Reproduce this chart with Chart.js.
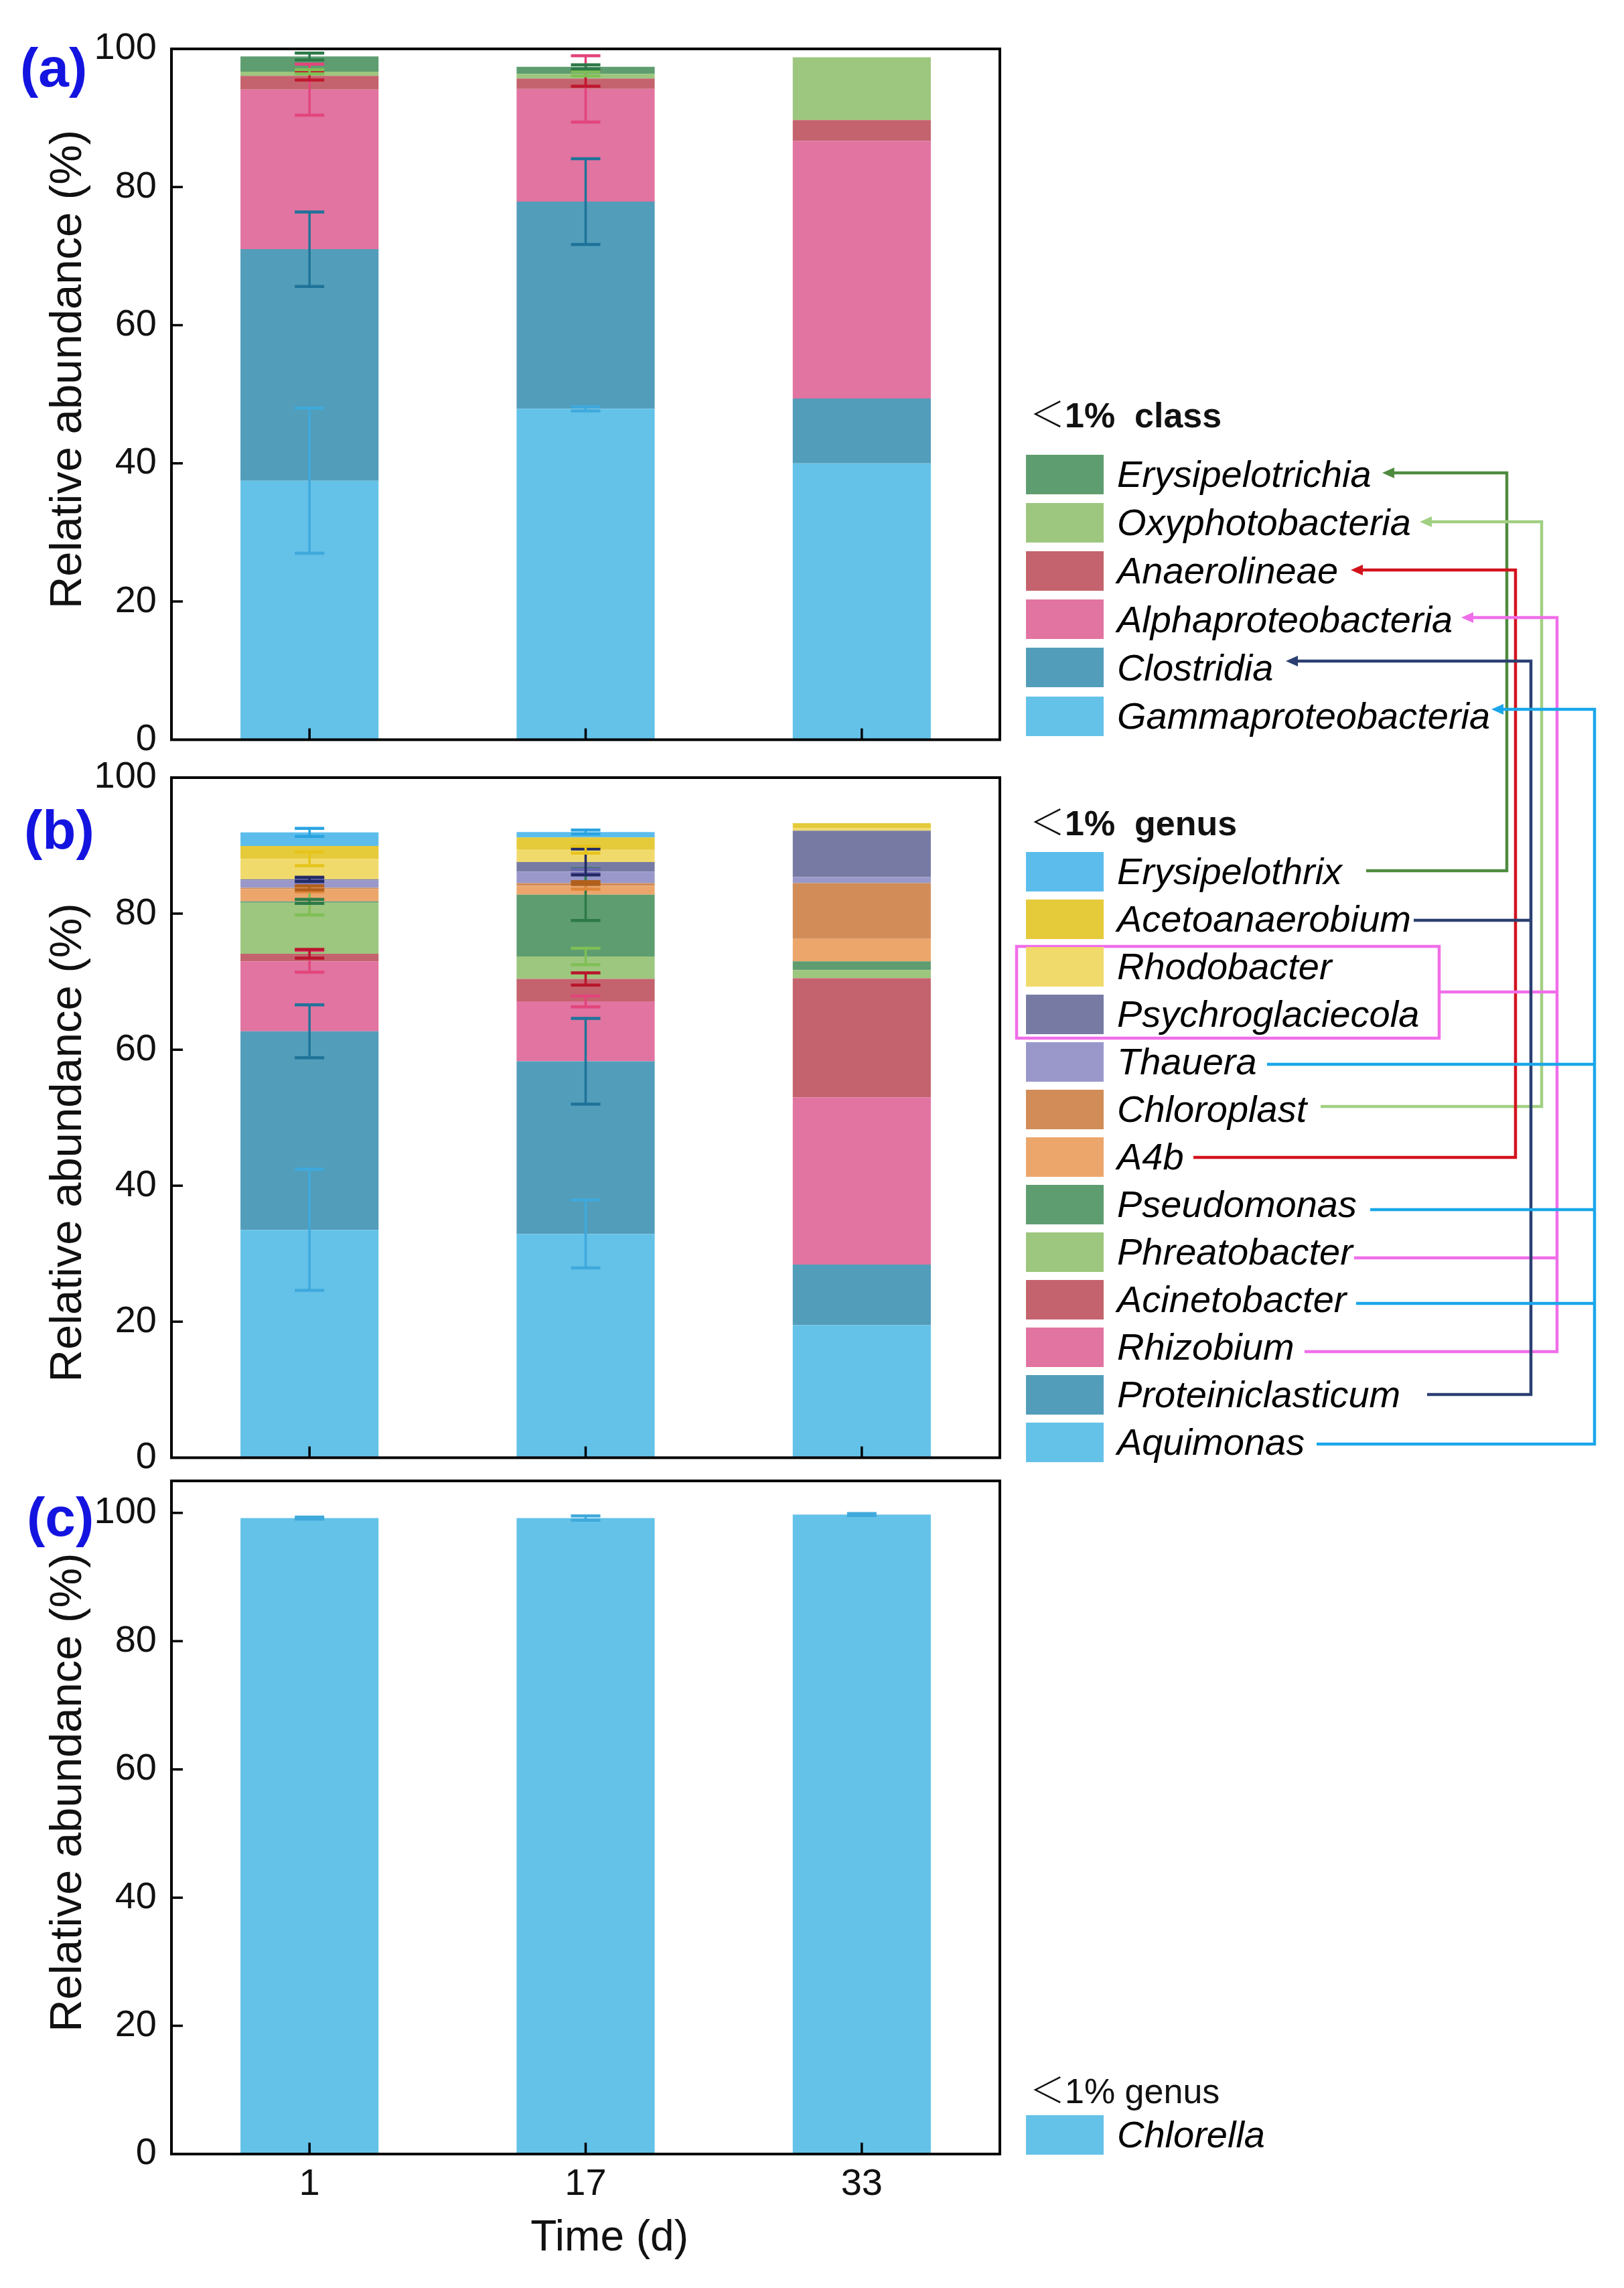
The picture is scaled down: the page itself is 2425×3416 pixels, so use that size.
<!DOCTYPE html>
<html><head><meta charset="utf-8">
<script src="https://cdn.jsdelivr.net/npm/chart.js@4.4.1/dist/chart.umd.min.js"></script>
<style>
html,body{margin:0;padding:0;background:#fff;}
#page{position:relative;width:2425px;height:3416px;overflow:hidden;background:#fff;font-family:'Liberation Sans',Arial,sans-serif;}
#page canvas{position:absolute;left:0;}
.plabel{position:absolute;color:#1414e0;font-weight:bold;font-size:82px;line-height:82px;white-space:nowrap;z-index:3;}
.hdr{position:absolute;font-size:52px;color:#111;white-space:pre;line-height:60px;z-index:3;}
.hdr .lt{font-family:'Noto Sans CJK SC',sans-serif;font-weight:300;}
.sw{position:absolute;width:116px;height:59px;z-index:3;}
.tx{position:absolute;font-style:italic;font-size:56px;color:#000;white-space:nowrap;line-height:60px;letter-spacing:0;z-index:3;}
svg{position:absolute;left:0;top:0;z-index:2;}
</style></head>
<body>
<div id="page">
<canvas id="ca"></canvas>
<canvas id="cb"></canvas>
<canvas id="cc"></canvas>
<div class="plabel" style="left:30px;top:60px;">(a)</div>
<div class="plabel" style="left:36px;top:1198px;">(b)</div>
<div class="plabel" style="left:40px;top:2224px;">(c)</div>
<svg width="2425" height="3416" viewBox="0 0 2425 3416">
  <g fill="none" stroke-width="4.5">
    <polyline stroke="#4f8b3f" points="2072,706 2250,706 2250,1300 2040,1300"/>
    <polyline stroke="#a0cf82" points="2128,779 2302,779 2302,1652 1972,1652"/>
    <polyline stroke="#d3121c" points="2025,851 2263,851 2263,1728 1782,1728"/>
    <polyline stroke="#f06ee9" points="2190,922 2325,922 2325,2018 1948,2018"/>
    <polyline stroke="#f06ee9" points="2149,1481 2325,1481"/>
    <polyline stroke="#f06ee9" points="2022,1878 2325,1878"/>
    <rect stroke="#f06ee9" x="1518" y="1413" width="631" height="137"/>
    <polyline stroke="#2b3f70" points="1928,987 2286,987 2286,2082 2131,2082"/>
    <polyline stroke="#2b3f70" points="2111,1374 2286,1374"/>
    <polyline stroke="#1aa6ea" points="2235,1059 2381,1059 2381,2156 1966,2156"/>
    <polyline stroke="#1aa6ea" points="1892,1589 2381,1589"/>
    <polyline stroke="#1aa6ea" points="2046,1806 2381,1806"/>
    <polyline stroke="#1aa6ea" points="2025,1946 2381,1946"/>
  </g>
  <polygon fill="#4f8b3f" points="2064,706 2082,698 2082,714"/>
  <polygon fill="#a0cf82" points="2120,779 2138,771 2138,787"/>
  <polygon fill="#d3121c" points="2017,851 2035,843 2035,859"/>
  <polygon fill="#f06ee9" points="2182,922 2200,914 2200,930"/>
  <polygon fill="#2b3f70" points="1920,987 1938,979 1938,995"/>
  <polygon fill="#1aa6ea" points="2227,1059 2245,1051 2245,1067"/>
</svg>
</div>
<script>
// ---------------- DATA ----------------
const days = ['1', '17', '33'];
const yTicks = [0, 20, 40, 60, 80, 100];

// Panel (a): class level, relative abundance (%) and error
const gammaproteobacteria    = [37.5, 47.9, 40.0];
const gammaproteobacteriaErr = [10.5, 0.3, 0];
const clostridia             = [33.5, 30.0, 9.4];
const clostridiaErr          = [5.4, 6.2, 0];
const alphaproteobacteria    = [23.1, 16.3, 37.3];
const alphaproteobacteriaErr = [3.7, 4.8, 0];
const anaerolineae           = [2.0, 1.5, 3.0];
const anaerolineaeErr        = [0.6, 1.1, 0];
const oxyphotobacteria       = [0.6, 0.7, 9.1];
const oxyphotobacteriaErr    = [0.3, 0.3, 0];
const erysipelotrichia       = [2.2, 1.0, 0];
const erysipelotrichiaErr    = [0.5, 0.3, 0];

// Panel (b): genus level
const aquimonas             = [33.5, 32.9, 19.5];
const aquimonasErr          = [8.9, 5.0, 0];
const proteiniclasticum     = [29.2, 25.4, 8.9];
const proteiniclasticumErr  = [3.9, 6.3, 0];
const rhizobium             = [10.3, 8.8, 24.6];
const rhizobiumErr          = [1.6, 0.8, 0];
const acinetobacter         = [1.1, 3.3, 17.5];
const acinetobacterErr      = [0.65, 0.9, 0];
const phreatobacter         = [7.5, 3.3, 1.2];
const phreatobacterErr      = [1.8, 1.2, 0];
const pseudomonas           = [0.2, 9.1, 1.3];
const pseudomonasErr        = [0.3, 3.8, 0];
const a4b                   = [1.8, 1.3, 3.3];
const a4bErr                = [0.4, 0.5, 0];
const chloroplast           = [0.2, 0.4, 8.2];
const chloroplastErr        = [0.3, 0.2, 0];
const thauera               = [1.1, 1.7, 0.9];
const thaueraErr            = [0.3, 0.3, 0];
const psychroglaciecola     = [0.15, 1.4, 6.8];
const psychroglaciecolaErr  = [0.3, 1.9, 0];
const rhodobacter           = [3.0, 1.8, 0.4];
const rhodobacterErr        = [1.0, 0.5, 0];
const acetoanaerobium       = [1.9, 1.8, 0.7];
const acetoanaerobiumErr    = [0, 0, 0];
const erysipelothrix        = [2.0, 0.8, 0];
const erysipelothrixErr     = [0.6, 0.3, 0];

// Panel (c): algae genus
const chlorella    = [99.2, 99.2, 99.75];
const chlorellaErr = [0.15, 0.35, 0.15];

// ---------------- STYLE ----------------
const FONT = "'Liberation Sans', Arial, sans-serif";
const COL = {
  lblue: '#64c2e9', steel: '#529dba', pink: '#e174a0', red: '#c4636d',
  lgreen: '#9dc67e', dgreen: '#5e9d70', yellow: '#e5ca3a', pyellow: '#f1da6c',
  slate: '#777ba4', lav: '#9a98ca', brown: '#d18c58', orange: '#eca66c', sky: '#5cbdec'
};

const seriesA = [
  {label: 'Gammaproteobacteria', data: gammaproteobacteria, err: gammaproteobacteriaErr, color: COL.lblue, ec: '#3fa9dc'},
  {label: 'Clostridia', data: clostridia, err: clostridiaErr, color: COL.steel, ec: '#1f7399'},
  {label: 'Alphaproteobacteria', data: alphaproteobacteria, err: alphaproteobacteriaErr, color: COL.pink, ec: '#e2457c'},
  {label: 'Anaerolineae', data: anaerolineae, err: anaerolineaeErr, color: COL.red, ec: '#c0182f'},
  {label: 'Oxyphotobacteria', data: oxyphotobacteria, err: oxyphotobacteriaErr, color: COL.lgreen, ec: '#7fbf55'},
  {label: 'Erysipelotrichia', data: erysipelotrichia, err: erysipelotrichiaErr, color: COL.dgreen, ec: '#2d7a48'}
];
const seriesB = [
  {label: 'Aquimonas', data: aquimonas, err: aquimonasErr, color: COL.lblue, ec: '#3fa9dc'},
  {label: 'Proteiniclasticum', data: proteiniclasticum, err: proteiniclasticumErr, color: COL.steel, ec: '#1f7399'},
  {label: 'Rhizobium', data: rhizobium, err: rhizobiumErr, color: COL.pink, ec: '#e2457c'},
  {label: 'Acinetobacter', data: acinetobacter, err: acinetobacterErr, color: COL.red, ec: '#b8152c'},
  {label: 'Phreatobacter', data: phreatobacter, err: phreatobacterErr, color: COL.lgreen, ec: '#7fbf55'},
  {label: 'Pseudomonas', data: pseudomonas, err: pseudomonasErr, color: COL.dgreen, ec: '#2d7a48'},
  {label: 'A4b', data: a4b, err: a4bErr, color: COL.orange, ec: '#e0863a'},
  {label: 'Chloroplast', data: chloroplast, err: chloroplastErr, color: COL.brown, ec: '#b0601c'},
  {label: 'Thauera', data: thauera, err: thaueraErr, color: COL.lav, ec: '#6a67b0'},
  {label: 'Psychroglaciecola', data: psychroglaciecola, err: psychroglaciecolaErr, color: COL.slate, ec: '#232a66'},
  {label: 'Rhodobacter', data: rhodobacter, err: rhodobacterErr, color: COL.pyellow, ec: '#e6c41a'},
  {label: 'Acetoanaerobium', data: acetoanaerobium, err: acetoanaerobiumErr, color: COL.yellow, ec: '#c9a800'},
  {label: 'Erysipelothrix', data: erysipelothrix, err: erysipelothrixErr, color: COL.sky, ec: '#2aa3e0'}
];
const seriesC = [
  {label: 'Chlorella', data: chlorella, err: chlorellaErr, color: COL.lblue, ec: '#3fa9dc'}
];

function makePanel(id, top, height, series, cfg) {
  const cv = document.getElementById(id);
  cv.width = 1520; cv.height = height;
  cv.style.width = '1520px'; cv.style.height = height + 'px'; cv.style.top = top + 'px';
  const deco = {
    id: 'deco' + id,
    afterDatasetsDraw(chart) {
      const ctx = chart.ctx, xs = chart.scales.x, ys = chart.scales.y;
      const cum = days.map(() => 0);
      ctx.save();
      ctx.lineCap = 'butt';
      series.forEach(s => {
        s.data.forEach((v, j) => {
          cum[j] += v;
          const e = s.err[j];
          if (!e) return;
          const x = xs.getPixelForValue(j);
          const yT = ys.getPixelForValue(cum[j] + e);
          const yB = ys.getPixelForValue(cum[j] - e);
          ctx.strokeStyle = s.ec;
          ctx.lineWidth = 3.5;
          ctx.beginPath();
          ctx.moveTo(x, yT); ctx.lineTo(x, yB);
          ctx.stroke();
          ctx.lineWidth = 4.5;
          ctx.beginPath();
          ctx.moveTo(x - 22, yT); ctx.lineTo(x + 22, yT);
          ctx.moveTo(x - 22, yB); ctx.lineTo(x + 22, yB);
          ctx.stroke();
        });
      });
      ctx.restore();
    },
    afterDraw(chart) {
      const ctx = chart.ctx, a = chart.chartArea, xs = chart.scales.x, ys = chart.scales.y;
      ctx.save();
      ctx.strokeStyle = '#000';
      ctx.lineWidth = 4;
      ctx.strokeRect(a.left, a.top, a.right - a.left, a.bottom - a.top);
      ctx.lineWidth = 3.5;
      ctx.beginPath();
      yTicks.forEach(v => {
        if (v <= 0 || v >= ys.max) return;
        const y = ys.getPixelForValue(v);
        ctx.moveTo(a.left, y); ctx.lineTo(a.left + 17, y);
      });
      days.forEach((d, j) => {
        const x = xs.getPixelForValue(j);
        ctx.moveTo(x, a.bottom); ctx.lineTo(x, a.bottom - 17);
      });
      ctx.stroke();
      ctx.restore();
    }
  };
  return new Chart(cv, {
    type: 'bar',
    data: {
      labels: days,
      datasets: series.map(s => ({
        label: s.label, data: s.data, backgroundColor: s.color,
        borderWidth: 0, barPercentage: 0.5, categoryPercentage: 1.0
      }))
    },
    options: {
      responsive: false, animation: false, devicePixelRatio: 1,
      layout: {padding: {top: 73, right: 27, left: 0, bottom: 0}},
      plugins: {legend: {display: false}, tooltip: {enabled: false}},
      scales: {
        x: {
          stacked: true,
          grid: {display: false, drawTicks: false},
          border: {display: false},
          ticks: {display: cfg.showX, padding: 12, color: '#111', font: {family: FONT, size: 56}},
          title: {display: cfg.showX, text: '    Time (d)', color: '#111',
                  font: {family: FONT, size: 64}, padding: {top: 0, bottom: 35}},
          afterFit: s => { s.height = cfg.xH; }
        },
        y: {
          stacked: true, min: 0, max: cfg.max,
          grid: {display: false, drawTicks: false},
          border: {display: false},
          ticks: {padding: 22, color: '#111', font: {family: FONT, size: 56}},
          afterBuildTicks: s => { s.ticks = yTicks.map(v => ({value: v})); },
          title: {display: true, text: cfg.yTitle, color: '#111',
                  font: {family: FONT, size: 67}, padding: {top: 62, bottom: 0}},
          afterFit: s => { s.width = 256; }
        }
      }
    },
    plugins: [deco]
  });
}

makePanel('ca', 0, 1160, seriesA, {showX: false, xH: 43, max: 100, yTitle: '    Relative abundance (%)'});
makePanel('cb', 1088, 1144, seriesB, {showX: false, xH: 45, max: 100, yTitle: 'Relative abundance (%)    '});
makePanel('cc', 2138, 1278, seriesC, {showX: true, xH: 200, max: 105, yTitle: '    Relative abundance (%)'});

// ---------------- LEGENDS (HTML text) ----------------
const page = document.getElementById('page');
function addHeader(word, cy, bold) {
  const d = document.createElement('div');
  d.className = 'hdr';
  d.style.left = '1538px';
  d.style.top = (cy - 30) + 'px';
  d.style.fontWeight = bold ? 'bold' : 'normal';
  const lt = document.createElement('span');
  lt.className = 'lt';
  lt.textContent = '＜';
  d.appendChild(lt);
  d.appendChild(document.createTextNode(bold ? '1%  ' + word : '1% ' + word));
  page.appendChild(d);
}
function addRows(series, startY, pitch) {
  series.forEach((s, i) => {
    const cy = startY + i * pitch;
    const sw = document.createElement('div');
    sw.className = 'sw';
    sw.style.left = '1532px';
    sw.style.top = Math.round(cy - 29.5) + 'px';
    sw.style.background = s.color;
    page.appendChild(sw);
    const t = document.createElement('div');
    t.className = 'tx';
    t.style.left = '1668px';
    t.style.top = Math.round(cy - 30) + 'px';
    t.textContent = s.label;
    page.appendChild(t);
  });
}
addHeader('class', 616, true);
addRows(seriesA.slice().reverse(), 708, 72.2);
addHeader('genus', 1225, true);
addRows(seriesB.slice().reverse(), 1301, 71.0);
addHeader('genus', 3118, false);
addRows(seriesC, 3187, 0);
</script>
</body></html>
